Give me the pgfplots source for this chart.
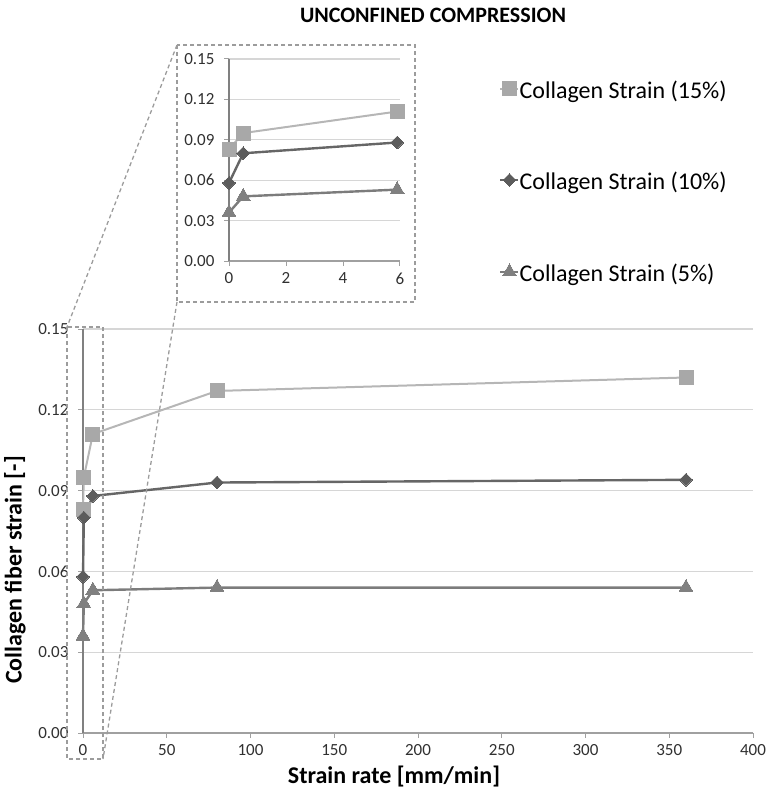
\documentclass[border=0pt]{standalone}
\usepackage{pgfplots}
\pgfplotsset{compat=1.18}
\usepackage{fontspec}
\setmainfont{Carlito}
\definecolor{cA}{HTML}{A8A8A8}
\definecolor{cAl}{HTML}{B6B6B6}
\definecolor{cB}{HTML}{5C5C5C}
\definecolor{cBl}{HTML}{666666}
\definecolor{cC}{HTML}{808080}
\definecolor{cCl}{HTML}{7C7C7C}
\definecolor{gridc}{HTML}{D6D6D6}
\definecolor{yaxc}{HTML}{808080}
\definecolor{xaxc}{HTML}{A0A0A0}
\definecolor{boxc}{HTML}{9C9C9C}
\definecolor{labc}{HTML}{303030}
\begin{document}
\begin{tikzpicture}
\useasboundingbox (0pt,0pt) rectangle (767pt,-794pt);
\pgfplotsset{
  base/.style={
    scale only axis, clip=false,
    axis lines*=left,
    ymin=0, ymax=0.15,
    ytick={0,0.03,0.06,0.09,0.12,0.15},
    ymajorgrids,
    grid style={color=gridc, line width=1.3pt},
    y axis line style={color=yaxc, line width=2.2pt},
    x axis line style={color=xaxc, line width=1.3pt},
    tick align=outside, major tick length=5pt,
    tick style={color=xaxc, line width=1pt},
    ticklabel style={font=\fontsize{17}{20}\selectfont, text=labc},
    yticklabel style={/pgf/number format/fixed, /pgf/number format/fixed zerofill, /pgf/number format/precision=2, xshift=-6pt},
    xticklabel style={yshift=-3pt},
    /pgf/number format/assume math mode=true,
  },
  sA/.style={color=cAl, line width=2pt, mark=square*, mark size=7pt, mark options={solid, fill=cA, draw=cA, line width=0pt}},
  sB/.style={color=cBl, line width=2.4pt, mark=square*, mark size=4.5pt, mark options={solid, rotate=45, fill=cB, draw=cB, line width=0pt}},
  sC/.style={color=cCl, line width=2.4pt, mark=triangle*, mark size=8pt, mark options={solid, fill=cC, draw=cC, line width=0pt}},
}
% main axis
\begin{axis}[base,
  at={(83pt,-733pt)}, anchor=south west,
  width=670pt, height=404pt,
  xmin=0, xmax=400, xtick={0,50,...,400},
  legend style={at={(0.6165,1.617)}, anchor=north west, draw=none, fill=none,
    font=\fontsize{24}{28}\selectfont, row sep=69pt,
    nodes={inner sep=0pt, text height=17pt, text depth=5pt},
    /tikz/every odd column/.append style={column sep=0pt}},
  legend cell align=left,
  legend image code/.code={\draw[mark repeat=2, mark phase=2, yshift=4pt] plot coordinates {(0pt,0pt)(9pt,0pt)(18pt,0pt)};},
]
\addplot[sA] coordinates {(0,0.083) (0.5,0.095) (5.9,0.111) (80,0.127) (360,0.132)};
\addlegendentry{Collagen Strain (15\%)}
\addplot[sB] coordinates {(0,0.058) (0.5,0.080) (5.9,0.088) (80,0.093) (360,0.094)};
\addlegendentry{Collagen Strain (10\%)}
\addplot[sC] coordinates {(0,0.036) (0.5,0.048) (5.9,0.053) (80,0.054) (360,0.054)};
\addlegendentry{Collagen Strain (5\%)}
\end{axis}
% inset axis
\begin{axis}[base,
  at={(229pt,-261pt)}, anchor=south west,
  width=171pt, height=202pt,
  xmin=0, xmax=6, xtick={0,2,4,6},
]
\addplot[sA] coordinates {(0,0.083) (0.5,0.095) (5.9,0.111)};
\addplot[sB] coordinates {(0,0.058) (0.5,0.080) (5.9,0.088)};
\addplot[sC] coordinates {(0,0.036) (0.5,0.048) (5.9,0.053)};
\end{axis}
% zoom decorations
\begin{scope}[boxc, line width=1.3pt, dash pattern=on 4pt off 3pt]
\draw (177pt,-45pt) rectangle (415pt,-302pt);
\draw (67pt,-327pt) rectangle (103pt,-759pt);
\draw (177pt,-45pt) -- (67pt,-327pt);
\draw (177pt,-302pt) -- (103pt,-759pt);
\end{scope}
% titles
\node[font=\fontsize{22}{26}\selectfont\bfseries] at (433pt,-15pt) {UNCONFINED COMPRESSION};
\node[font=\fontsize{24}{28}\selectfont\bfseries] at (394pt,-777pt) {Strain rate [mm/min]};
\node[font=\fontsize{24}{28}\selectfont\bfseries, rotate=90] at (15pt,-570pt) {Collagen fiber strain [-]};
\end{tikzpicture}
\end{document}
